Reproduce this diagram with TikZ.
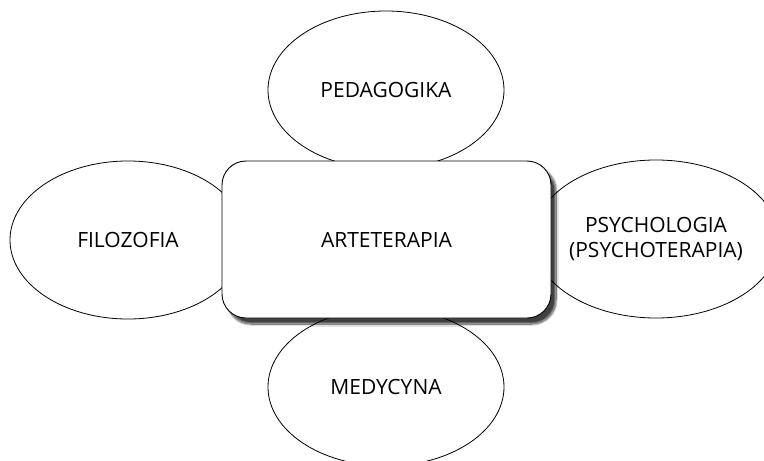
\documentclass[tikz,border=0pt]{standalone}
\usepackage{fontspec}
\setmainfont{Open Sans}
\usetikzlibrary{shapes.geometric,shadows.blur}
\tikzset{
  field/.style={ellipse, draw=black, line width=0.8pt, fill=white, inner sep=0pt,
    minimum width=236pt, minimum height=158pt, font=\fontsize{21}{25}\selectfont, align=center},
  core/.style={rectangle, rounded corners=24pt, draw=black, line width=0.9pt, fill=white,
    minimum width=329pt, minimum height=157pt, font=\fontsize{21}{25}\selectfont,
    blur shadow={shadow xshift=5pt, shadow yshift=-6pt, shadow blur steps=12, shadow blur extra rounding=2pt, shadow opacity=75}}
}
\begin{document}
\begin{tikzpicture}[x=1pt,y=-1pt]
\useasboundingbox (0,0) rectangle (764,461);
\clip (0,0) rectangle (764,461);
\node[field] (ped) at (386,90) {PEDAGOGIKA};
\node[field] (fil) at (128,240) {FILOZOFIA};
\node[field] (psy) at (656,239) {PSYCHOLOGIA\\(PSYCHOTERAPIA)};
\node[field] (med) at (386,387) {MEDYCYNA};
\node[core] (art) at (386.5,239.5) {ARTETERAPIA};
\end{tikzpicture}
\end{document}
